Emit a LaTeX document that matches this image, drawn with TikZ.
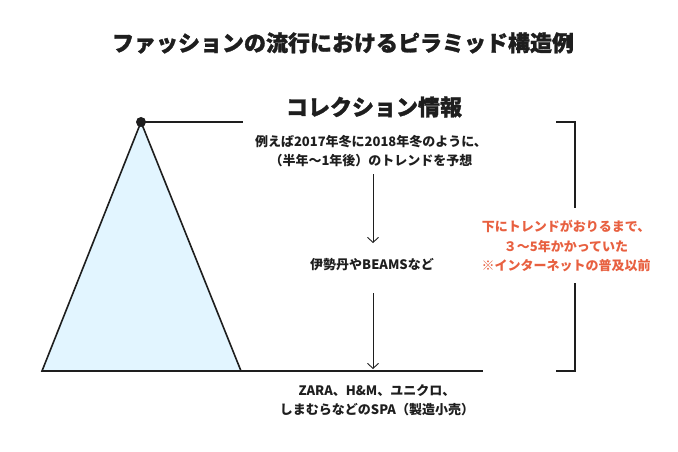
\documentclass[tikz,border=0pt]{standalone}
\usepackage{fontspec}
\setmainfont{Noto Sans CJK JP}
\newfontfamily\heavyjp{Noto Sans CJK JP}[FakeBold=1.2]
\usetikzlibrary{arrows.meta}
\definecolor{tri}{RGB}{226,245,255}
\definecolor{redtxt}{RGB}{232,96,64}
\definecolor{ink}{RGB}{30,30,30}
\tikzset{
  txt/.style={font=\bfseries\fontsize{13}{19}\selectfont, text=ink, align=center, inner sep=0pt},
  bigtxt/.style={font=\heavyjp\bfseries\fontsize{22}{26}\selectfont, text=ink, inner sep=0pt},
  redlbl/.style={font=\bfseries\fontsize{13}{19.5}\selectfont, text=redtxt, align=center, inner sep=0pt},
  flow/.style={draw=ink, line width=0.9pt, -{Straight Barb[length=5pt,width=11pt,line width=0.9pt]}},
  rule/.style={draw=ink, line width=1.4pt},
}
\begin{document}
\begin{tikzpicture}[x=1pt,y=-1pt]
\useasboundingbox (0,0) rectangle (678,452);
\fill[white] (0,0) rectangle (678,452);
% title
\node[bigtxt] (title) at (343,43) {ファッションの流行におけるピラミッド構造例};
% pyramid
\coordinate (apex) at (141,122);
\coordinate (bl) at (42,371);
\coordinate (br) at (241,371);
\filldraw[fill=tri, draw=ink, line width=1.6pt, line join=miter] (bl) -- (apex) -- (br) -- cycle;
\coordinate (topend) at (243,122);
\coordinate (baseend) at (483,371);
\draw[rule] (apex) -- (topend);
\draw[rule] (bl) -- (baseend);
\fill[ink] (apex) circle (5);
% texts
\node[bigtxt] (coll) at (374,107) {コレクション情報};
\node[txt] (ex) at (371,151) {例えば2017年冬に2018年冬のように、\\（半年～1年後）のトレンドを予想};
\node[txt] (mid) at (372,265) {伊勢丹やBEAMSなど};
\node[txt] (spa) at (377,400) {ZARA、H\&M、ユニクロ、\\しまむらなどのSPA（製造小売）};
\node[redlbl] (red) at (566,246) {下にトレンドがおりるまで、\\３～5年かかっていた\\※インターネットの普及以前};
% arrows
\coordinate (a1s) at (373,174);
\coordinate (a1e) at (373,243);
\coordinate (a2s) at (373,293);
\coordinate (a2e) at (373,369);
\draw[flow] (a1s) -- (a1e);
\draw[flow] (a2s) -- (a2e);
% bracket
\coordinate (bt1) at (556,122);
\coordinate (bt2) at (575,122);
\coordinate (bg1) at (575,208);
\coordinate (bg2) at (575,283);
\coordinate (bb1) at (575,371);
\coordinate (bb2) at (556,371);
\draw[rule, line join=miter] (bt1) -- (bt2) -- (bg1);
\draw[rule, line join=miter] (bg2) -- (bb1) -- (bb2);
\end{tikzpicture}
\end{document}
